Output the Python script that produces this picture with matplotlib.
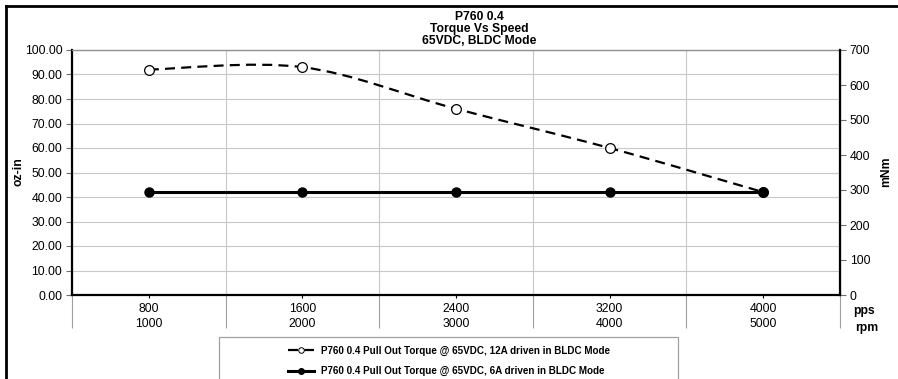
import numpy as np
import matplotlib
matplotlib.use('Agg')
import matplotlib.pyplot as plt
from matplotlib.path import Path
from matplotlib.patches import PathPatch, Rectangle
from matplotlib.lines import Line2D
from matplotlib import ticker as mtick

plt.rcParams['font.family'] = ['Liberation Sans', 'DejaVu Sans']

### data
pps = [800, 1600, 2400, 3200, 4000]
rpm = [1000, 2000, 3000, 4000, 5000]
torque_12a = [92.0, 93.0, 76.0, 60.0, 42.0]   # oz-in
torque_6a = [42.0, 42.0, 42.0, 42.0, 42.0]    # oz-in
label_12a = 'P760 0.4 Pull Out Torque @ 65VDC, 12A driven in BLDC Mode'
label_6a = 'P760 0.4 Pull Out Torque @ 65VDC, 6A driven in BLDC Mode'
title = 'P760 0.4\nTorque Vs Speed\n65VDC, BLDC Mode'

W, H = 898, 379
grid_col = '#c8c8c8'


def smooth_path(xs, ys):
	"""Excel style smoothed line: bezier segments through the points."""
	pts = list(zip(xs, ys))
	verts = [pts[0]]
	codes = [Path.MOVETO]
	n = len(pts)
	for i in range(n - 1):
		p0 = np.array(pts[max(i - 1, 0)])
		p1 = np.array(pts[i])
		p2 = np.array(pts[i + 1])
		p3 = np.array(pts[min(i + 2, n - 1)])
		c1 = p1 + (p2 - p0) / 6.0
		c2 = p2 - (p3 - p1) / 6.0
		verts += [tuple(c1), tuple(c2), tuple(p2)]
		codes += [Path.CURVE4] * 3
	return Path(verts, codes)


fig = plt.figure(figsize=(W / 100, H / 100), dpi=100)
ax = fig.add_axes([72 / W, 1 - 295 / H, 768 / W, 245 / H])
x = np.arange(len(pps))

ax.set_xlim(-0.5, len(pps) - 0.5)
ax.set_ylim(0, 100)
ax.yaxis.set_major_locator(mtick.MultipleLocator(10))
ax.yaxis.set_major_formatter(mtick.FormatStrFormatter('%.2f'))
ax.grid(axis='y', color=grid_col, lw=0.8)
ax.set_axisbelow(True)

# category boundaries, the lines run on down through the label table
ax.set_xticks(x)
ax.set_xticklabels([f'{p}\n{r}' for p, r in zip(pps, rpm)], linespacing=1.35)
ax.set_xticks(np.arange(-0.5, len(pps)), minor=True)
ax.grid(axis='x', which='minor', color=grid_col, lw=0.8)
ax.tick_params(axis='x', which='minor', length=24, color='#a0a0a0', width=0.8)
ax.tick_params(axis='x', which='major', length=2.5, width=0.8, labelsize=8.8, pad=3)
ax.tick_params(axis='y', length=4, width=0.8, labelsize=8.8, color='#707070', pad=3)

for s in ['left', 'bottom']:
	ax.spines[s].set_linewidth(1.6)
	ax.spines[s].set_color('black')
ax.spines['top'].set_color('#909090')
ax.spines['top'].set_linewidth(1.0)

ax2 = ax.twinx()
ax2.set_ylim(0, 700)
ax2.yaxis.set_major_locator(mtick.MultipleLocator(100))
ax2.tick_params(axis='y', length=4, width=0.8, labelsize=8.8, color='#707070', pad=3)
ax2.spines['right'].set_linewidth(1.6)
ax2.spines['right'].set_color('black')
for s in ['left', 'bottom', 'top']:
	ax2.spines[s].set_visible(False)

# axis names
fig.text(18 / W, 1 - 172 / H, 'oz-in', fontsize=8.7, fontweight='bold', rotation=90,
	ha='center', va='center')
fig.text(886 / W, 1 - 172 / H, 'mNm', fontsize=8.7, fontweight='bold', rotation=90,
	ha='center', va='center')

# 12A series: smoothed dashed line with hollow markers
curve = PathPatch(smooth_path(x, torque_12a), facecolor='none', edgecolor='black',
	lw=1.6, linestyle=(0, (4.5, 2.8)), zorder=3)
ax.add_patch(curve)
ax.plot(x, torque_12a, ls='none', marker='o', ms=7, mfc='white', mec='black', mew=0.9, zorder=4)

# 6A series
ax.plot(x, torque_6a, color='black', lw=2.2, marker='o', ms=6.5, zorder=5)

# axis row names
fig.text(853 / W, 1 - 311 / H, 'pps', fontsize=8.7, fontweight='bold', va='center', ha='left')
fig.text(855 / W, 1 - 328 / H, 'rpm', fontsize=8.7, fontweight='bold', va='center', ha='left')

fig.text(479 / W, 1 - 11 / H, title, fontsize=8.7, fontweight='bold', ha='center', va='top',
	linespacing=0.98)

# legend box, wider than its entries
fig.patches.append(Rectangle((219 / W, -0.05), 459 / W, (379 - 337) / H + 0.05,
	transform=fig.transFigure, facecolor='white', edgecolor='#a0a0a0', lw=0.9))
h1 = Line2D([], [], color='black', lw=1.6, ls=(0, (4.5, 2.8)), marker='o', ms=4,
	mfc='white', mec='black', mew=0.7)
h2 = Line2D([], [], color='black', lw=2.2, marker='o', ms=4)
fig.legend([h1, h2], [label_12a, label_6a], loc='upper center',
	bbox_to_anchor=(449 / W, 1 - 338 / H), frameon=False,
	prop={'size': 7.1, 'weight': 'bold'}, handlelength=2.7, handletextpad=0.7,
	labelspacing=1.05, borderpad=0.3)

# chart area border (runs off the right and bottom edges)
fig.add_artist(Line2D([6 / W, 1.0], [1 - 6 / H, 1 - 6 / H], transform=fig.transFigure,
	color='black', lw=2.0))
fig.add_artist(Line2D([6 / W, 6 / W], [0.0, 1 - 6 / H], transform=fig.transFigure,
	color='black', lw=2.0))

fig.savefig('out.png', dpi=100)
